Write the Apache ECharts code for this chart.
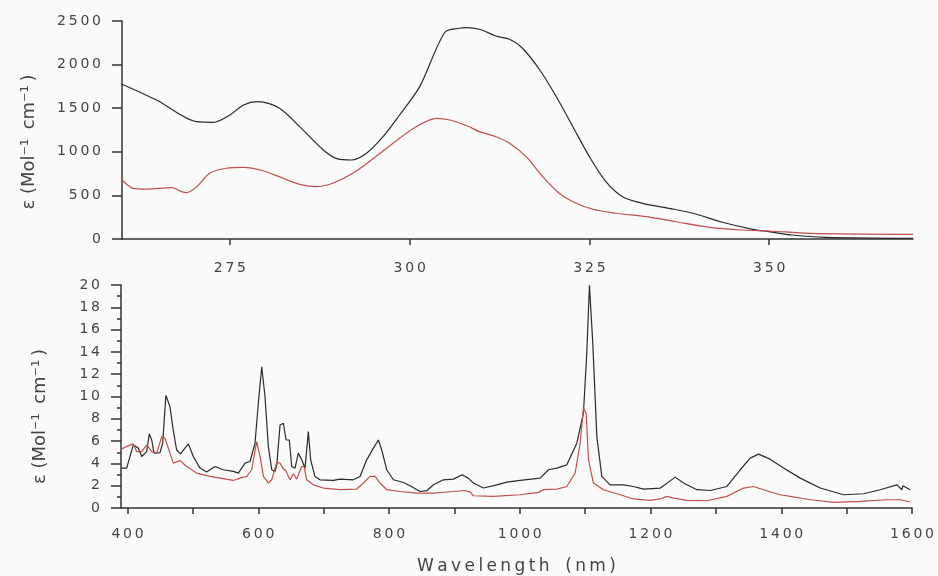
<!DOCTYPE html>
<html>
<head>
<meta charset="utf-8">
<script src="https://cdn.jsdelivr.net/npm/echarts@6/dist/echarts.min.js"></script>
<style>
  html, body { margin: 0; padding: 0; background: #fafafa; }
  #chart { width: 938px; height: 576px; }
</style>
</head>
<body>
<div id="chart"></div>
<script>
// UV region, [wavelength nm, epsilon]
var uvBlack = [
  [260, 1775], [264.8, 1594], [270.4, 1345], [272.7, 1338], [275, 1422], [276.9, 1537],
  [278.9, 1575], [281.9, 1499], [284.7, 1288], [288, 1021], [290, 918], [291.9, 906],
  [294, 983], [296.3, 1173], [298.6, 1422], [301.4, 1747], [304.9, 2371], [306.9, 2417],
  [307.9, 2424], [309.7, 2405], [312, 2328], [313.9, 2290], [315.7, 2187], [318.1, 1938],
  [320.4, 1632], [322.7, 1288], [325, 944], [327.3, 657], [329.6, 485], [332.4, 409],
  [336.1, 352], [339.4, 295], [343.5, 192], [347.7, 111], [350, 84], [353.2, 46],
  [357.8, 19], [370, 8]
];
var uvRed = [
  [260, 677], [261.6, 581], [263.4, 573], [266.9, 589], [268.3, 543], [269, 531],
  [270.4, 600], [272.2, 753], [274.5, 811], [276.9, 822], [279.6, 783], [282.4, 696],
  [284.7, 627], [287, 600], [289.3, 639], [292.1, 753], [295.3, 944], [298.6, 1155],
  [300.9, 1288], [303.7, 1384], [305.6, 1365], [308.3, 1288], [309.7, 1231], [312, 1173],
  [313.9, 1098], [316.2, 944], [318.5, 715], [320.8, 524], [322.7, 428], [325.5, 341],
  [328.7, 295], [332.9, 256], [337, 198], [341.7, 134], [346.3, 103], [350, 92],
  [355.6, 65], [370, 54]
];

// Vis/NIR region, [wavelength nm, epsilon]
var nirBlack = [
  [391, 3.58], [398.7, 3.58], [408.8, 5.66], [416.5, 5.37], [421.7, 4.62], [429.3, 5.06],
  [433.3, 6.65], [437, 6.1], [440.5, 4.92], [449.7, 4.97], [453.7, 5.81], [458.7, 10.1],
  [464.8, 9.1], [469.9, 7.0], [475.1, 5.2], [481, 4.85], [493, 5.75], [500.6, 4.62],
  [510.9, 3.58], [521, 3.22], [533.7, 3.72], [546.5, 3.43], [561.8, 3.28], [569.5, 3.13],
  [579.7, 4.02], [587.4, 4.17], [595, 5.81], [600.1, 9.39], [605.3, 12.67], [610.3, 9.98],
  [615.4, 5.51], [620.6, 3.43], [625.7, 3.28], [628.3, 3.87], [633.3, 7.45], [638.4, 7.6],
  [642.5, 6.1], [647.5, 6.1], [651.1, 3.72], [656.2, 3.58], [661.3, 4.92], [666.4, 4.32],
  [671.5, 3.58], [676.6, 6.85], [680.1, 4.32], [686.7, 2.83], [694.5, 2.53], [714.9, 2.47],
  [725.1, 2.59], [745.5, 2.53], [755.7, 2.83], [765.9, 4.32], [776.1, 5.37], [783.7, 6.1],
  [788.8, 5.21], [796.5, 3.43], [806.7, 2.53], [822, 2.29], [832.2, 1.99], [847.5, 1.48],
  [857.7, 1.55], [867.9, 2.08], [883.2, 2.53], [898.5, 2.59], [912, 2.98], [921, 2.68],
  [929.1, 2.24], [944.4, 1.79], [964.9, 2.08], [980.2, 2.32], [1000.6, 2.47], [1031.2, 2.68],
  [1043.9, 3.43], [1056.7, 3.58], [1072, 3.87], [1087.3, 5.81], [1097.4, 8.5], [1102.5, 13.86],
  [1106.6, 19.97], [1111.7, 14.76], [1117.9, 6.4], [1125.5, 2.83], [1138.2, 2.08], [1158.6, 2.08],
  [1173.9, 1.93], [1189.2, 1.7], [1215, 1.79], [1237.9, 2.77], [1250.5, 2.24], [1270.9, 1.64],
  [1291.4, 1.57], [1316.8, 1.93], [1337.2, 3.43], [1352.5, 4.47], [1365.2, 4.83], [1383, 4.38],
  [1403.5, 3.58], [1429, 2.68], [1459.6, 1.79], [1495.3, 1.19], [1525.9, 1.28], [1551.4, 1.64],
  [1577, 2.08], [1584.6, 1.64], [1586, 2.0], [1597.3, 1.64]
];
var nirRed = [
  [391, 5.3], [398, 5.5], [408.8, 5.75], [413.9, 5.06], [421.7, 5.06], [429.3, 5.66],
  [437, 5.06], [444.6, 4.92], [452.3, 6.4], [457.3, 6.26], [464.9, 4.92], [470, 4.02],
  [480.2, 4.26], [490.4, 3.72], [505.7, 3.13], [526.2, 2.83], [541.5, 2.68], [561.8, 2.47],
  [572, 2.68], [582.3, 2.83], [589.9, 3.43], [597.6, 5.96], [602.7, 4.62], [607.8, 2.83],
  [615.4, 2.24], [620.6, 2.53], [628.3, 4.08], [633.3, 4.02], [638.4, 3.49], [641.5, 3.4],
  [648.6, 2.53], [653.7, 3.07], [658.7, 2.59], [666.4, 3.72], [670, 3.72], [674.1, 2.53],
  [684.3, 2.08], [699.6, 1.79], [725.1, 1.64], [750.6, 1.7], [760.8, 2.24], [771, 2.83],
  [778.7, 2.83], [786.3, 2.24], [796.5, 1.64], [816.9, 1.48], [842.4, 1.34], [867.9, 1.34],
  [898.5, 1.48], [916.4, 1.57], [924, 1.42], [929.1, 1.1], [959.7, 1.04], [1000.6, 1.19],
  [1028.7, 1.4], [1036.3, 1.64], [1056.7, 1.7], [1072, 1.93], [1084.7, 3.13], [1092.4, 5.81],
  [1097.4, 8.94], [1101.6, 8.5], [1105.1, 4.32], [1112.7, 2.24], [1128.1, 1.64], [1153.6, 1.19],
  [1173.9, 0.81], [1199.5, 0.68], [1214.8, 0.81], [1225, 1.04], [1235.2, 0.89], [1255.6, 0.68],
  [1286.2, 0.65], [1316.8, 1.04], [1342.3, 1.79], [1357.6, 1.93], [1372.9, 1.64], [1398.4, 1.19],
  [1413.7, 1.04], [1444.3, 0.74], [1480, 0.5], [1520.8, 0.59], [1561.7, 0.74], [1582, 0.74],
  [1597.3, 0.54]
];

var uvTicks = [275, 300, 325, 350];
var nirTicks = [400, 500, 600, 700, 800, 900, 1000, 1100, 1200, 1300, 1400, 1500, 1600];
var nirLabels = [400, 600, 800, 1000, 1200, 1400, 1600];

var yTitle = '\u03b5 (Mol\u207b\u00b9\u2009 cm\u207b\u00b9\u2009)';
var xTitle = 'Wavelength (nm)';

var BLACK = '#2a2a2a';
var RED = '#c0504d';
var TEXT = '#444';
var FONT = 'DejaVu Sans';

// spread characters out a little, like the original lettering
function spaced(s) {
  return String(s).split('').join('\u2009');
}

var axisLine = { show: true, lineStyle: { color: '#333', width: 1.5 } };
var tickStyle = { color: '#333', width: 1.5 };
var labelBase = { color: TEXT, fontFamily: FONT, fontSize: 14, formatter: spaced };

var chart = echarts.init(document.getElementById('chart'));
chart.setOption({
  backgroundColor: '#fafafa',
  animation: false,
  grid: [
    { left: 122, right: 25, top: 21, bottom: 337 },
    { left: 121, right: 26, top: 285, bottom: 68 }
  ],
  xAxis: [
    {
      gridIndex: 0, type: 'value', min: 260, max: 370, offset: 4,
      axisLine: axisLine,
      axisTick: { show: true, customValues: uvTicks, length: 6, lineStyle: tickStyle },
      axisLabel: Object.assign({ customValues: uvTicks, margin: 18 }, labelBase),
      splitLine: { show: false }
    },
    {
      gridIndex: 1, type: 'value', min: 390, max: 1600,
      axisLine: axisLine,
      axisTick: { show: true, customValues: nirTicks, length: 6, lineStyle: tickStyle },
      axisLabel: Object.assign({ customValues: nirLabels, margin: 19 }, labelBase),
      splitLine: { show: false },
      name: spaced(xTitle).replace(/\u2009\(/, '\u2009\u2009('),
      nameLocation: 'middle', nameGap: 50,
      nameTextStyle: { color: TEXT, fontFamily: FONT, fontSize: 17 }
    }
  ],
  yAxis: [
    {
      gridIndex: 0, type: 'value', min: 0, max: 2500, interval: 500,
      axisLine: axisLine,
      axisTick: { show: true, length: 10, lineStyle: tickStyle },
      axisLabel: Object.assign({ margin: 21 }, labelBase),
      splitLine: { show: false },
      name: yTitle, nameLocation: 'middle', nameGap: 84, nameRotate: 90,
      nameTextStyle: { color: TEXT, fontFamily: FONT, fontSize: 18, padding: [0, 0, 0, -24] }
    },
    {
      gridIndex: 1, type: 'value', min: 0, max: 20, interval: 2,
      axisLine: axisLine,
      axisTick: { show: true, length: 10, lineStyle: tickStyle },
      minorTick: { show: true, splitNumber: 2, length: 4, lineStyle: tickStyle },
      axisLabel: Object.assign({ margin: 21 }, labelBase),
      splitLine: { show: false },
      name: yTitle, nameLocation: 'middle', nameGap: 72, nameRotate: 90,
      nameTextStyle: { color: TEXT, fontFamily: FONT, fontSize: 18, padding: [0, 0, 0, -40] }
    }
  ],
  series: [
    { type: 'line', xAxisIndex: 0, yAxisIndex: 0, data: uvBlack, showSymbol: false, smooth: 0.3,
      lineStyle: { color: BLACK, width: 1.2 } },
    { type: 'line', xAxisIndex: 0, yAxisIndex: 0, data: uvRed, showSymbol: false, smooth: 0.3,
      lineStyle: { color: RED, width: 1.2 } },
    { type: 'line', xAxisIndex: 1, yAxisIndex: 1, data: nirBlack, showSymbol: false,
      lineStyle: { color: BLACK, width: 1.2 } },
    { type: 'line', xAxisIndex: 1, yAxisIndex: 1, data: nirRed, showSymbol: false,
      lineStyle: { color: RED, width: 1.2 } }
  ]
});
</script>
</body>
</html>
